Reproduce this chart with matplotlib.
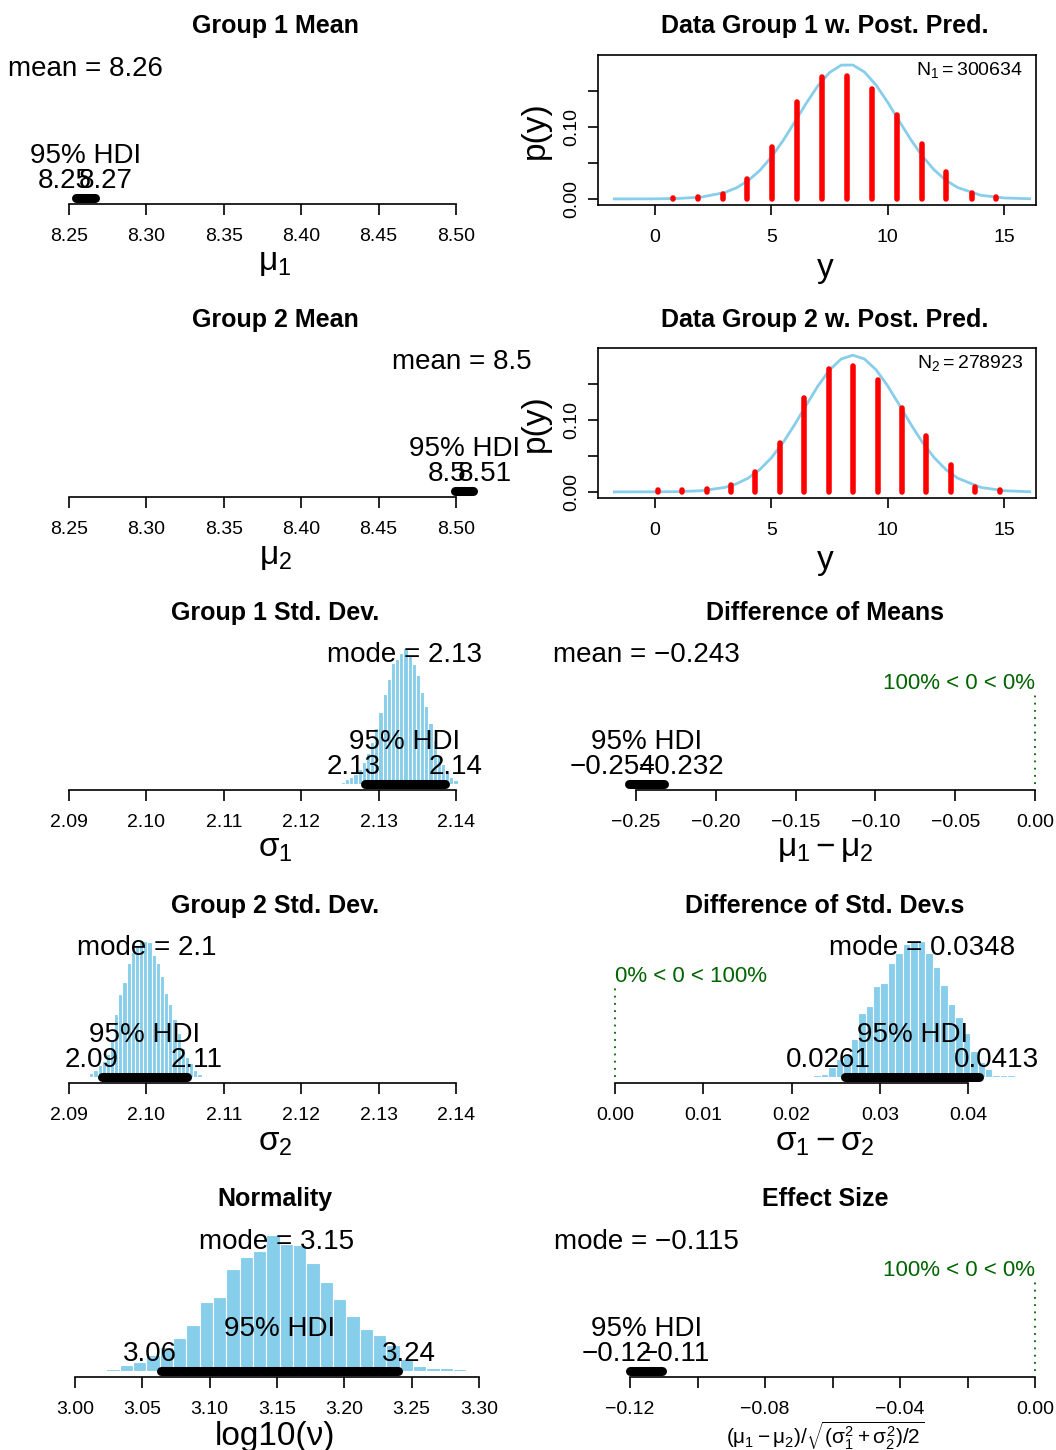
import matplotlib
matplotlib.use("Agg")
import matplotlib.pyplot as plt
import numpy as np

plt.rcParams["font.family"] = ["Liberation Sans", "DejaVu Sans"]
plt.rcParams["mathtext.fontset"] = "custom"
plt.rcParams["mathtext.rm"] = "Liberation Sans"
plt.rcParams["mathtext.it"] = "Liberation Sans"
plt.rcParams["mathtext.bf"] = "Liberation Sans:bold"
plt.rcParams["axes.unicode_minus"] = True

SKY = "#87CEEB"
GREEN = "#006400"

# posterior summaries
mu1_mean = 8.2608
mu1_hdi = [8.2545, 8.2665]
mu2_mean = 8.5040
mu2_hdi = [8.4995, 8.5113]
diff_mean = -0.2434
diff_hdi = [-0.2541, -0.2322]
sigma1_mode = 2.1334
sigma1_hdi = [2.1282, 2.1386]
sigma2_mode = 2.1001
sigma2_hdi = [2.0943, 2.1052]
sdiff_mode = 0.0348
sdiff_hdi = [0.0261, 0.0413]
lognu_mode = 3.1495
lognu_hdi = [3.0636, 3.2396]
effect_mode = -0.1152
effect_hdi = [-0.1199, -0.1104]

# posterior histograms (first break, bin width, heights relative to tallest bin)
sigma1_start, sigma1_width = 2.12514, 0.000538
sigma1_heights = [0.017, 0.034, 0.05, 0.07, 0.11, 0.16, 0.23, 0.31, 0.41, 0.53,
                  0.66, 0.77, 0.89, 0.92, 0.96, 1.0, 0.95, 0.88, 0.80, 0.68,
                  0.57, 0.45, 0.32, 0.21, 0.15, 0.09, 0.05, 0.03, 0.01]
sigma2_start, sigma2_width = 2.09207, 0.000538
sigma2_heights = [0.01, 0.03, 0.05, 0.09, 0.12, 0.17, 0.27, 0.46, 0.61, 0.70,
                  0.84, 0.92, 0.96, 1.0, 1.0, 0.99, 0.90, 0.84, 0.74, 0.62,
                  0.54, 0.43, 0.32, 0.21, 0.15, 0.10, 0.05, 0.02, 0.01]
sdiff_start, sdiff_width = 0.02247, 0.000846
sdiff_heights = [0.015, 0.025, 0.07, 0.13, 0.17, 0.28, 0.47, 0.52, 0.67, 0.69,
                 0.84, 0.91, 0.975, 1.0, 1.0, 0.91, 0.81, 0.68, 0.54, 0.44,
                 0.32, 0.19, 0.11, 0.06, 0.015, 0.015, 0.012]
lognu_start, lognu_width = 3.0134, 0.0099
lognu_heights = [0.005, 0.015, 0.047, 0.069, 0.118, 0.18, 0.243, 0.336, 0.51, 0.547,
                 0.752, 0.841, 0.885, 1.0, 0.931, 0.924, 0.792, 0.657, 0.529, 0.404,
                 0.306, 0.265, 0.19, 0.086, 0.037, 0.025, 0.022, 0.012]

# data histograms with posterior predictive curves
y1_bins = [0.77, 1.83, 2.90, 3.97, 5.03, 6.11, 7.17, 8.25, 9.32, 10.40, 11.46, 12.52, 13.60, 14.67]
y1_freq = [0.001, 0.002, 0.007, 0.027, 0.072, 0.134, 0.169, 0.171, 0.153, 0.117, 0.076, 0.038, 0.008, 0.002]
y2_bins = [0.11, 1.17, 2.22, 3.26, 4.31, 5.36, 6.42, 7.47, 8.51, 9.56, 10.62, 11.65, 12.71, 13.76, 14.81]
y2_freq = [0.002, 0.003, 0.004, 0.009, 0.027, 0.068, 0.130, 0.171, 0.175, 0.156, 0.117, 0.077, 0.037, 0.007, 0.003]
curve_x = [-1.75, 0, 1, 2, 3, 3.5, 4, 4.5, 5, 5.5, 6, 6.5, 7, 7.5, 8, 8.5,
           9, 9.5, 10, 10.5, 11, 11.5, 12, 12.5, 13, 14, 15, 16.1]
curve1_y = [0.0000, 0.0001, 0.0006, 0.0025, 0.0089, 0.0154, 0.0253, 0.0394, 0.0581, 0.0809,
            0.1067, 0.1331, 0.1572, 0.1757, 0.1859, 0.1861, 0.1763, 0.1581, 0.1342, 0.1077,
            0.0819, 0.0589, 0.0401, 0.0258, 0.0158, 0.0050, 0.0013, 0.0002]
curve2_y = [0.0000, 0.0001, 0.0003, 0.0016, 0.0062, 0.0112, 0.0191, 0.0310, 0.0474, 0.0685,
            0.0935, 0.1207, 0.1472, 0.1696, 0.1847, 0.1900, 0.1847, 0.1696, 0.1472, 0.1207,
            0.0935, 0.0685, 0.0474, 0.0310, 0.0191, 0.0062, 0.0016, 0.0002]
n1, n2 = 300634, 278923

mean_ticks = [8.25, 8.30, 8.35, 8.40, 8.45, 8.50]
sigma_ticks = [2.09, 2.10, 2.11, 2.12, 2.13, 2.14]
diff_ticks = [-0.25, -0.20, -0.15, -0.10, -0.05, 0.00]
sdiff_ticks = [0.00, 0.01, 0.02, 0.03, 0.04]
lognu_ticks = [3.00, 3.05, 3.10, 3.15, 3.20, 3.25, 3.30]
effect_ticks = [-0.12, -0.10, -0.08, -0.06, -0.04, -0.02, 0.00]
effect_labels = ["\u22120.12", "", "\u22120.08", "", "\u22120.04", "", "0.00"]

W, H = 1056, 1450
DPI = 100
fig = plt.figure(figsize=(W / DPI, H / DPI), dpi=DPI)
renderer = fig.canvas.get_renderer()

ROW_AXIS = [204, 497, 790, 1083, 1377]
ROW_TITLE = [26, 320, 613, 906, 1199]
COL_CX = [275, 825]
UNIT = 136.0  # pixel height of the tallest bin


def px_axes(x0, x1, ybot, ytop):
    return fig.add_axes([x0 / W, 1 - ybot / H, (x1 - x0) / W, (ybot - ytop) / H])


def ftext(x, y, s, **kw):
    return fig.text(x / W, 1 - y / H, s, **kw)


def fmt(v):
    return ("%.3g" % v).replace("-", "\u2212")


def tick_fmt(ticks, nd=2):
    return [("%.*f" % (nd, t)).replace("-", "\u2212") for t in ticks]


def adj_text(ax, x, y, s, frac, dy, **kw):
    # horizontal adjustment like R's adj: frac of the width sits left of x
    t = ax.annotate(s, xy=(x, y), xytext=(0, dy), textcoords="offset pixels",
                    ha="left", va="baseline", **kw)
    w = t.get_window_extent(renderer).width
    t.xyann = (-frac * w, dy)
    return t


def post_panel(col, row, title, xlabel, ticks, labels, tick_px, center, kind, hdi,
               hist=None, comp=None, xlabel_size=24):
    x0, x1 = (40, 505) if col == 0 else (572, 1052)
    axis_y = ROW_AXIS[row]
    lo, hi = -0.044, 1.07
    ax = px_axes(x0, x1, axis_y, axis_y - (hi - lo) * UNIT)
    s = (ticks[-1] - ticks[0]) / (tick_px[1] - tick_px[0])
    ax.set_xlim(ticks[0] + (x0 - tick_px[0]) * s, ticks[0] + (x1 - tick_px[0]) * s)
    ax.set_ylim(lo, hi)
    ax.patch.set_visible(False)

    if hist is not None:
        start, width, heights = hist
        edges = start + width * np.arange(len(heights))
        ax.bar(edges, heights, width=width, align="edge", color=SKY,
               edgecolor="white", linewidth=0.8)

    ax.plot(hdi, [0, 0], color="black", lw=6.5, solid_capstyle="round", zorder=3)
    ax.text(center, 0.9, "%s = %s" % (kind, fmt(center)), ha="center", va="baseline",
            fontsize=20)
    ax.annotate("95% HDI", xy=(np.mean(hdi), 0), xytext=(0, 35), textcoords="offset pixels",
                ha="center", va="baseline", fontsize=20)
    adj_text(ax, hdi[0], 0, fmt(hdi[0]), 0.7, 10, fontsize=20)
    adj_text(ax, hdi[1], 0, fmt(hdi[1]), 0.3, 10, fontsize=20)

    if comp is not None:
        cval, below = comp
        ax.plot([cval, cval], [0, 0.67], color=GREEN, lw=1.3, linestyle=(0, (1, 3)))
        adj_text(ax, cval, 0.7, "%d%% < %s < %d%%" % (below, fmt(cval), 100 - below),
                 below / 100, 0, fontsize=16, color=GREEN)

    for side in ("left", "right", "top"):
        ax.spines[side].set_visible(False)
    ax.spines["bottom"].set_bounds(ticks[0], ticks[-1])
    ax.spines["bottom"].set_linewidth(1.2)
    ax.set_yticks([])
    ax.set_xticks(ticks)
    ax.set_xticklabels(labels)
    ax.tick_params(axis="x", direction="out", length=8, width=1.2, labelsize=14, pad=9)

    ftext(COL_CX[col], ROW_TITLE[row], title, ha="center", va="center",
          fontsize=18, fontweight="bold")
    ftext(COL_CX[col], axis_y + 59, xlabel, ha="center", va="center", fontsize=xlabel_size)


def ppd_panel(row, title, bins, freq, curve_y, nlabel):
    top, bot = 55 + 293 * row, 205 + 293 * row
    ax = px_axes(598, 1036, bot, top)
    ax.set_xlim(-2.45, 16.37)
    ax.set_ylim(-0.0085, 0.2)
    ax.plot(curve_x, curve_y, color=SKY, lw=2, zorder=2)
    lc = ax.vlines(bins, 0, freq, color="red", lw=4, zorder=3)
    lc.set_capstyle("round")
    ax.set_xticks([0, 5, 10, 15])
    ax.set_yticks([0, 0.05, 0.10, 0.15])
    ax.set_yticklabels(["0.00", "", "0.10", ""])
    ax.tick_params(direction="out", length=7, width=1.2, labelsize=14)
    ax.tick_params(axis="x", pad=10)
    ax.tick_params(axis="y", pad=6)
    for lab in ax.get_yticklabels():
        lab.set_rotation(90)
        lab.set_va("center")
    for sp in ax.spines.values():
        sp.set_linewidth(1.2)
    ftext(1023, top + 15, nlabel, ha="right", va="center", fontsize=14)
    ftext(535, (top + bot) / 2, "p(y)", ha="center", va="center", rotation=90, fontsize=24)
    ftext(825, bot + 63, "y", ha="center", va="center", fontsize=24)
    ftext(825, ROW_TITLE[row], title, ha="center", va="center", fontsize=18, fontweight="bold")


post_panel(0, 0, "Group 1 Mean", r"$\mu_1$", mean_ticks, tick_fmt(mean_ticks), (69, 456),
           mu1_mean, "mean", mu1_hdi)
post_panel(0, 1, "Group 2 Mean", r"$\mu_2$", mean_ticks, tick_fmt(mean_ticks), (69, 456),
           mu2_mean, "mean", mu2_hdi)
post_panel(0, 2, "Group 1 Std. Dev.", r"$\sigma_1$", sigma_ticks, tick_fmt(sigma_ticks), (69, 456),
           sigma1_mode, "mode", sigma1_hdi, hist=(sigma1_start, sigma1_width, sigma1_heights))
post_panel(0, 3, "Group 2 Std. Dev.", r"$\sigma_2$", sigma_ticks, tick_fmt(sigma_ticks), (69, 456),
           sigma2_mode, "mode", sigma2_hdi, hist=(sigma2_start, sigma2_width, sigma2_heights))
post_panel(0, 4, "Normality", "log10(\u03bd)", lognu_ticks, tick_fmt(lognu_ticks), (75, 479),
           lognu_mode, "mode", lognu_hdi, hist=(lognu_start, lognu_width, lognu_heights))

ppd_panel(0, "Data Group 1 w. Post. Pred.", y1_bins, y1_freq, curve1_y,
          r"$\mathregular{N_1 = %d}$" % n1)
ppd_panel(1, "Data Group 2 w. Post. Pred.", y2_bins, y2_freq, curve2_y,
          r"$\mathregular{N_2 = %d}$" % n2)
post_panel(1, 2, "Difference of Means", r"$\mu_1 - \mu_2$", diff_ticks, tick_fmt(diff_ticks),
           (636, 1035), diff_mean, "mean", diff_hdi, comp=(0.0, 100))
post_panel(1, 3, "Difference of Std. Dev.s", r"$\sigma_1 - \sigma_2$", sdiff_ticks,
           tick_fmt(sdiff_ticks), (615, 968), sdiff_mode, "mode", sdiff_hdi,
           hist=(sdiff_start, sdiff_width, sdiff_heights), comp=(0.0, 0))
post_panel(1, 4, "Effect Size", r"$(\mu_1 - \mu_2)/\sqrt{(\sigma_1^2 + \sigma_2^2)/2}$",
           effect_ticks, effect_labels, (630, 1035), effect_mode, "mode", effect_hdi,
           comp=(0.0, 100), xlabel_size=15)

fig.savefig("out.png", dpi=DPI)
